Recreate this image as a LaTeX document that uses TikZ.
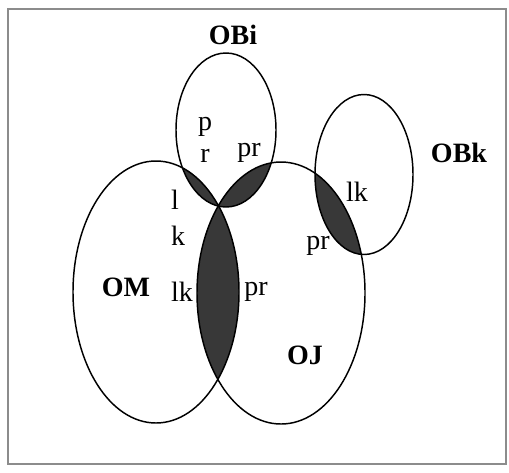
\documentclass[tikz,border=0pt]{standalone}
\usepackage{fontspec}
\setmainfont{Liberation Serif}
\begin{document}
\begin{tikzpicture}[x=0.75pt,y=-0.75pt,
  lab/.style={font=\fontsize{21}{23}\selectfont, inner sep=0pt},
  setlab/.style={font=\fontsize{21}{23}\selectfont\bfseries, inner sep=0pt},
  outline/.style={draw=black, line width=1.1pt},
  lens/.style={fill=black!78}]
\useasboundingbox (0,0) rectangle (509,472);
\fill[white] (0,0) rectangle (509,472);
\draw[black!45, line width=1.2pt] (8,9) rectangle (506,464);
\def\pOBi{(226,130) ellipse [x radius=50, y radius=77]}
\def\pOBk{(364,174.5) ellipse [x radius=49, y radius=80]}
\def\pOM{(156,292) ellipse [x radius=83, y radius=131]}
\def\pOJ{(281,293) ellipse [x radius=84, y radius=131]}
% shaded pairwise intersections
\begin{scope}\clip \pOBi; \fill[lens] \pOM; \end{scope}
\begin{scope}\clip \pOBi; \fill[lens] \pOJ; \end{scope}
\begin{scope}\clip \pOM; \fill[lens] \pOJ; \end{scope}
\begin{scope}\clip \pOBk; \fill[lens] \pOJ; \end{scope}
% outlines
\draw[outline] \pOBi;
\draw[outline] \pOBk;
\draw[outline] \pOM;
\draw[outline] \pOJ;
% set labels
\node[setlab] (obi) at (233,35) {OBi};
\node[setlab] (obk) at (459,153) {OBk};
\node[setlab] (om) at (126,287) {OM};
\node[setlab] (oj) at (305,355) {OJ};
% small labels
\node[lab] (p1) at (205,127) {p};
\node[lab] (r1) at (205,156) {r};
\node[lab] (pr1) at (249,153) {pr};
\node[lab] (l1) at (175,200) {l};
\node[lab] (k1) at (178,236) {k};
\node[lab] (lk1) at (182,292) {lk};
\node[lab] (pr2) at (256,292) {pr};
\node[lab] (lk2) at (357,192) {lk};
\node[lab] (pr3) at (318,246) {pr};
\end{tikzpicture}
\end{document}
